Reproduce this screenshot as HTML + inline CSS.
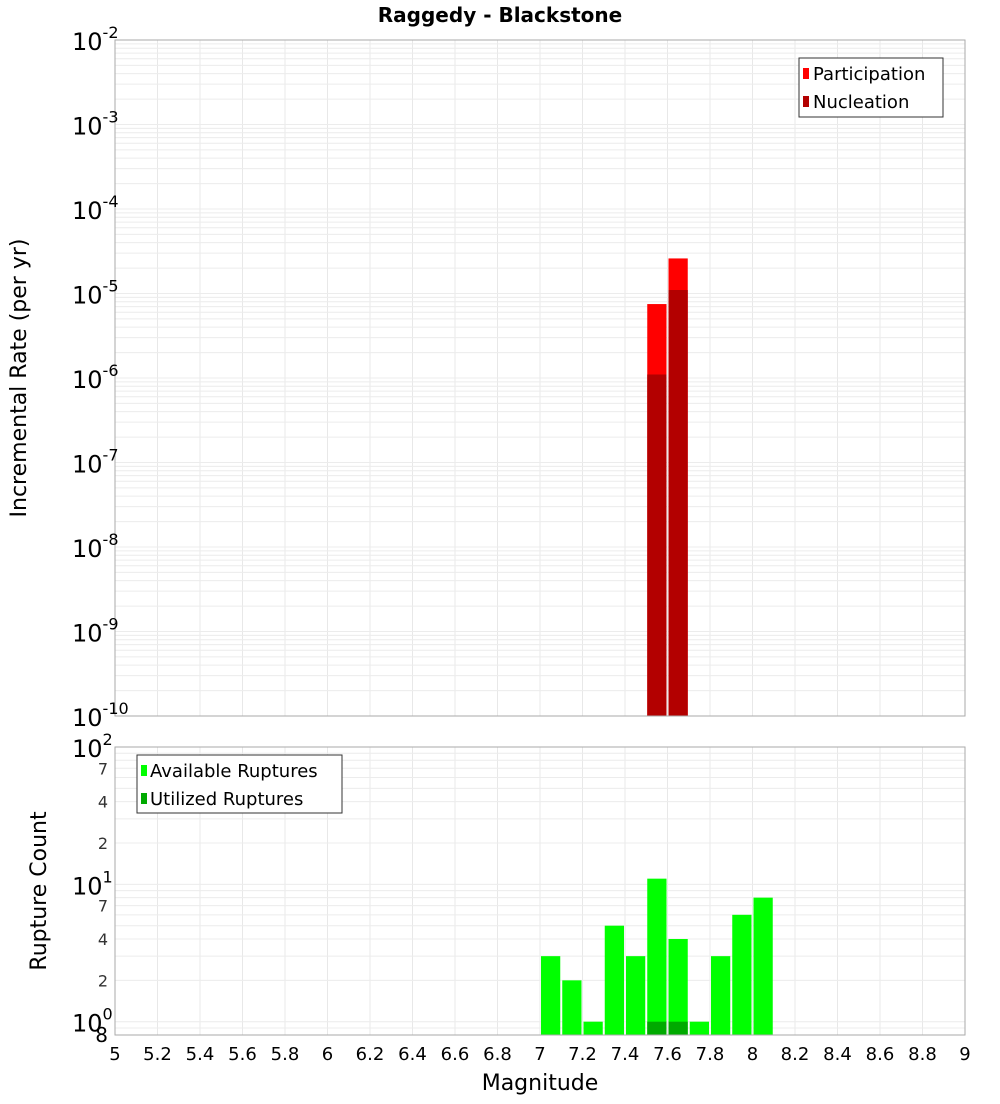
<!DOCTYPE html>
<html><head><meta charset="utf-8"><style>
body{margin:0;background:#fff;font-family:"DejaVu Sans","Liberation Sans",sans-serif;}
svg text{font-family:"DejaVu Sans","Liberation Sans",sans-serif;}
</style></head><body>
<svg id="c" width="1000" height="1100" xmlns="http://www.w3.org/2000/svg"></svg>
<script>
const mags=[7.0,7.1,7.2,7.3,7.4,7.5,7.6,7.7,7.8,7.9,8.0];
const available=[3,2,1,5,3,11,4,1,3,6,8];
const utilizedMags=[7.5,7.6];
const utilized=[1,1];
const rateMags=[7.5,7.6];
const participation=[7.5e-6,2.6e-5];
const nucleation=[1.1e-6,1.1e-5];
const xTicks=[5,5.2,5.4,5.6,5.8,6,6.2,6.4,6.6,6.8,7,7.2,7.4,7.6,7.8,8,8.2,8.4,8.6,8.8,9];
const topExps=[-10,-9,-8,-7,-6,-5,-4,-3,-2];
const botMinor=[2,4,7,20,40,70];

const S=document.getElementById('c'),NS='http://www.w3.org/2000/svg';
function mk(t,a,txt){const e=document.createElementNS(NS,t);for(const k in a)e.setAttribute(k,a[k]);if(txt!==undefined)e.textContent=txt;S.appendChild(e);return e;}
const L=115,R=965;
const x=v=>L+(v-5)/4*(R-L);
const T0=40,T1=716,B0=747,B1=1035;
const yT=v=>T1-(Math.log10(v)+10)/8*(T1-T0);
const bmin=0.8,bmax=100;
const yB=v=>B1-(Math.log10(v)-Math.log10(bmin))/(Math.log10(bmax)-Math.log10(bmin))*(B1-B0);

let e;
e=mk('text',{x:500,y:22,'text-anchor':'middle','font-size':20,'font-weight':'bold'},'Raggedy - Blackstone');


// gridlines
for(const t of [...xTicks,5.1,5.3]){}
for(let i=0;i<xTicks.length;i++){const t=xTicks[i];
 e=mk('line',{x1:x(t),x2:x(t),y1:T0,y2:T1,stroke:'#e8e8e8'});
 e=mk('line',{x1:x(t),x2:x(t),y1:B0,y2:B1,stroke:'#e8e8e8'});}
for(let p=-10;p<-2;p++)for(let m=1;m<10;m++){const yy=yT(m*Math.pow(10,p));
 e=mk('line',{x1:L,x2:R,y1:yy,y2:yy,stroke:'#ececec'});}
for(let p=-1;p<2;p++)for(let m=1;m<10;m++){const v=m*Math.pow(10,p);if(v<bmin||v>bmax)continue;const yy=yB(v);
 e=mk('line',{x1:L,x2:R,y1:yy,y2:yy,stroke:'#ececec'});}

// top bars
for(let i=0;i<rateMags.length;i++){
 e=mk('rect',{x:x(rateMags[i])+1,y:yT(participation[i]),width:x(5.1)-x(5)-2,height:T1-yT(participation[i]),fill:'#ff0000'});
 
 e=mk('rect',{x:x(rateMags[i])+1,y:yT(nucleation[i]),width:x(5.1)-x(5)-2,height:T1-yT(nucleation[i]),fill:'#b30000'});
 }
// bottom bars
for(let i=0;i<mags.length;i++){
 e=mk('rect',{x:x(mags[i])+1,y:yB(available[i]),width:x(5.1)-x(5)-2,height:B1-yB(available[i]),fill:'#00ff00'});
 }
for(let i=0;i<utilizedMags.length;i++){
 e=mk('rect',{x:x(utilizedMags[i])+1,y:yB(utilized[i]),width:x(5.1)-x(5)-2,height:B1-yB(utilized[i]),fill:'#00aa00'});
 }

// frames
e=mk('rect',{x:L,y:T0,width:R-L,height:T1-T0,fill:'none',stroke:'#aaa'});
e=mk('rect',{x:L,y:B0,width:R-L,height:B1-B0,fill:'none',stroke:'#aaa'});

// top y ticks
for(const p of topExps){const yy=yT(Math.pow(10,p));
 e=mk('text',{x:72,y:yy+10,'font-size':24});
 e.innerHTML='10<tspan dy="-12" font-size="16">'+p+'</tspan>';}
// bottom y ticks
[[100,'2'],[10,'1'],[1,'0']].forEach(([v,p])=>{const yy=yB(v);
 e=mk('text',{x:72,y:yy+10,'font-size':24});
 e.innerHTML='10<tspan dy="-12" font-size="16">'+p+'</tspan>';});
for(const v of botMinor){e=mk('text',{x:108,y:yB(v)+6,'text-anchor':'end','font-size':16,fill:'#333'},String(v%10===0?v/10:v));
 }
e=mk('text',{x:108,y:1042,'text-anchor':'end','font-size':20},'8');
// x ticks
for(const t of xTicks){e=mk('text',{x:x(t),y:1060,'text-anchor':'middle','font-size':18},String(t));
 }
e=mk('text',{x:540,y:1090,'text-anchor':'middle','font-size':22},'Magnitude');
e=mk('text',{x:0,y:0,'text-anchor':'middle','font-size':22,transform:'translate(26,378) rotate(-90)'},'Incremental Rate (per yr)');
e=mk('text',{x:0,y:0,'text-anchor':'middle','font-size':22,transform:'translate(46,891) rotate(-90)'},'Rupture Count');

// legends
e=mk('rect',{x:799,y:58,width:144,height:59,fill:'#fff',stroke:'#333'});
e=mk('rect',{x:803,y:68,width:6,height:11,fill:'#ff0000'});
e=mk('text',{x:813,y:80,'font-size':18},'Participation');
e=mk('rect',{x:803,y:96,width:6,height:11,fill:'#b30000'});
e=mk('text',{x:813,y:108,'font-size':18},'Nucleation');
e=mk('rect',{x:137,y:755,width:205,height:58,fill:'#fff',stroke:'#333'});
e=mk('rect',{x:141,y:765,width:6,height:11,fill:'#00ff00'});
e=mk('text',{x:150,y:777,'font-size':18},'Available Ruptures');
e=mk('rect',{x:141,y:793,width:6,height:11,fill:'#00aa00'});
e=mk('text',{x:150,y:805,'font-size':18},'Utilized Ruptures');
</script>
</body></html>
